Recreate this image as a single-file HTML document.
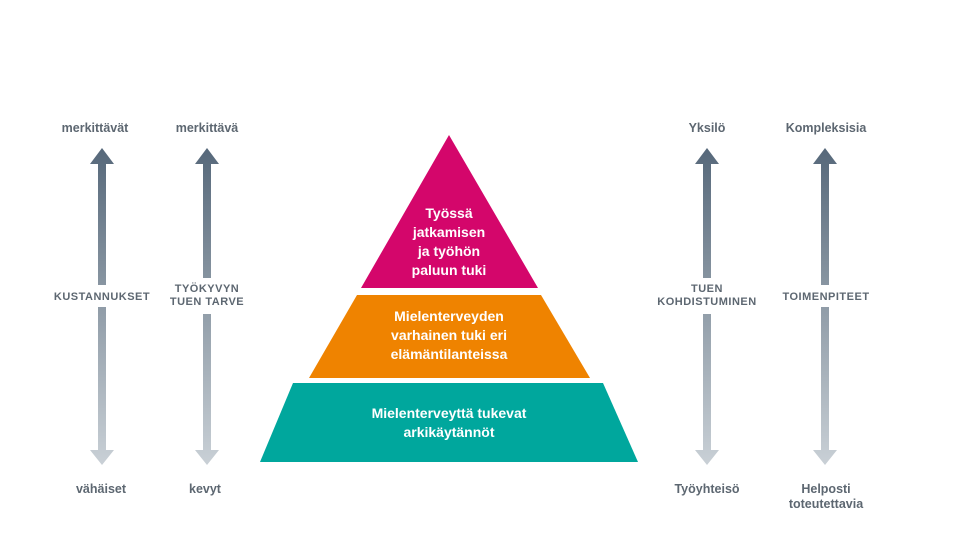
<!DOCTYPE html>
<html><head><meta charset="utf-8"><style>
html,body{margin:0;padding:0;background:#fff;}
svg{display:block;}
text{font-family:"Liberation Sans",Arial,sans-serif;font-weight:bold;}
</style></head><body>
<svg width="960" height="540" viewBox="0 0 960 540" xmlns="http://www.w3.org/2000/svg">
<defs>
<linearGradient id="g" gradientUnits="userSpaceOnUse" x1="0" y1="148" x2="0" y2="465">
<stop offset="0" stop-color="#56687a"/>
<stop offset="0.45" stop-color="#8a97a3"/>
<stop offset="1" stop-color="#c9d0d6"/>
</linearGradient>
</defs>
<g fill="url(#g)">
<!-- arrow 1 x=102 -->
<polygon points="102,148 114,164 106,164 106,285 98,285 98,164 90,164"/>
<polygon points="98,307 106,307 106,450 114,450 102,465 90,450 98,450"/>
<!-- arrow 2 x=207 -->
<polygon points="207,148 219,164 211,164 211,278 203,278 203,164 195,164"/>
<polygon points="203,314 211,314 211,450 219,450 207,465 195,450 203,450"/>
<!-- arrow 3 x=707 -->
<polygon points="707,148 719,164 711,164 711,278 703,278 703,164 695,164"/>
<polygon points="703,314 711,314 711,450 719,450 707,465 695,450 703,450"/>
<!-- arrow 4 x=825 -->
<polygon points="825,148 837,164 829,164 829,285 821,285 821,164 813,164"/>
<polygon points="821,307 829,307 829,450 837,450 825,465 813,450 821,450"/>
</g>
<g fill="#5d6771" font-size="12.5" text-anchor="middle">
<text x="95" y="132">merkittävät</text>
<text x="207" y="132">merkittävä</text>
<text x="707" y="132">Yksilö</text>
<text x="826" y="132">Kompleksisia</text>
<text x="101" y="493">vähäiset</text>
<text x="205" y="493">kevyt</text>
<text x="707" y="493">Työyhteisö</text>
<text x="826" y="493">Helposti</text>
<text x="826" y="508">toteutettavia</text>
</g>
<g fill="#5d6771" font-size="11" text-anchor="middle" letter-spacing="0.5">
<text x="102" y="300">KUSTANNUKSET</text>
<text x="207" y="292">TYÖKYVYN</text>
<text x="207" y="305">TUEN TARVE</text>
<text x="707" y="292">TUEN</text>
<text x="707" y="305">KOHDISTUMINEN</text>
<text x="826" y="300">TOIMENPITEET</text>
</g>
<polygon points="449,135 538,288 361,288" fill="#d4066b"/>
<polygon points="357,295 541,295 590,378 309,378" fill="#ef8300"/>
<polygon points="293,383 603,383 638,462 260,462" fill="#00a79d"/>
<g fill="#fff" font-size="14" text-anchor="middle">
<text x="449" y="218">Työssä</text>
<text x="449" y="237">jatkamisen</text>
<text x="449" y="256">ja työhön</text>
<text x="449" y="275">paluun tuki</text>
<text x="449" y="321">Mielenterveyden</text>
<text x="449" y="340">varhainen tuki eri</text>
<text x="449" y="359">elämäntilanteissa</text>
<text x="449" y="418">Mielenterveyttä tukevat</text>
<text x="449" y="437">arkikäytännöt</text>
</g>
</svg>
</body></html>
